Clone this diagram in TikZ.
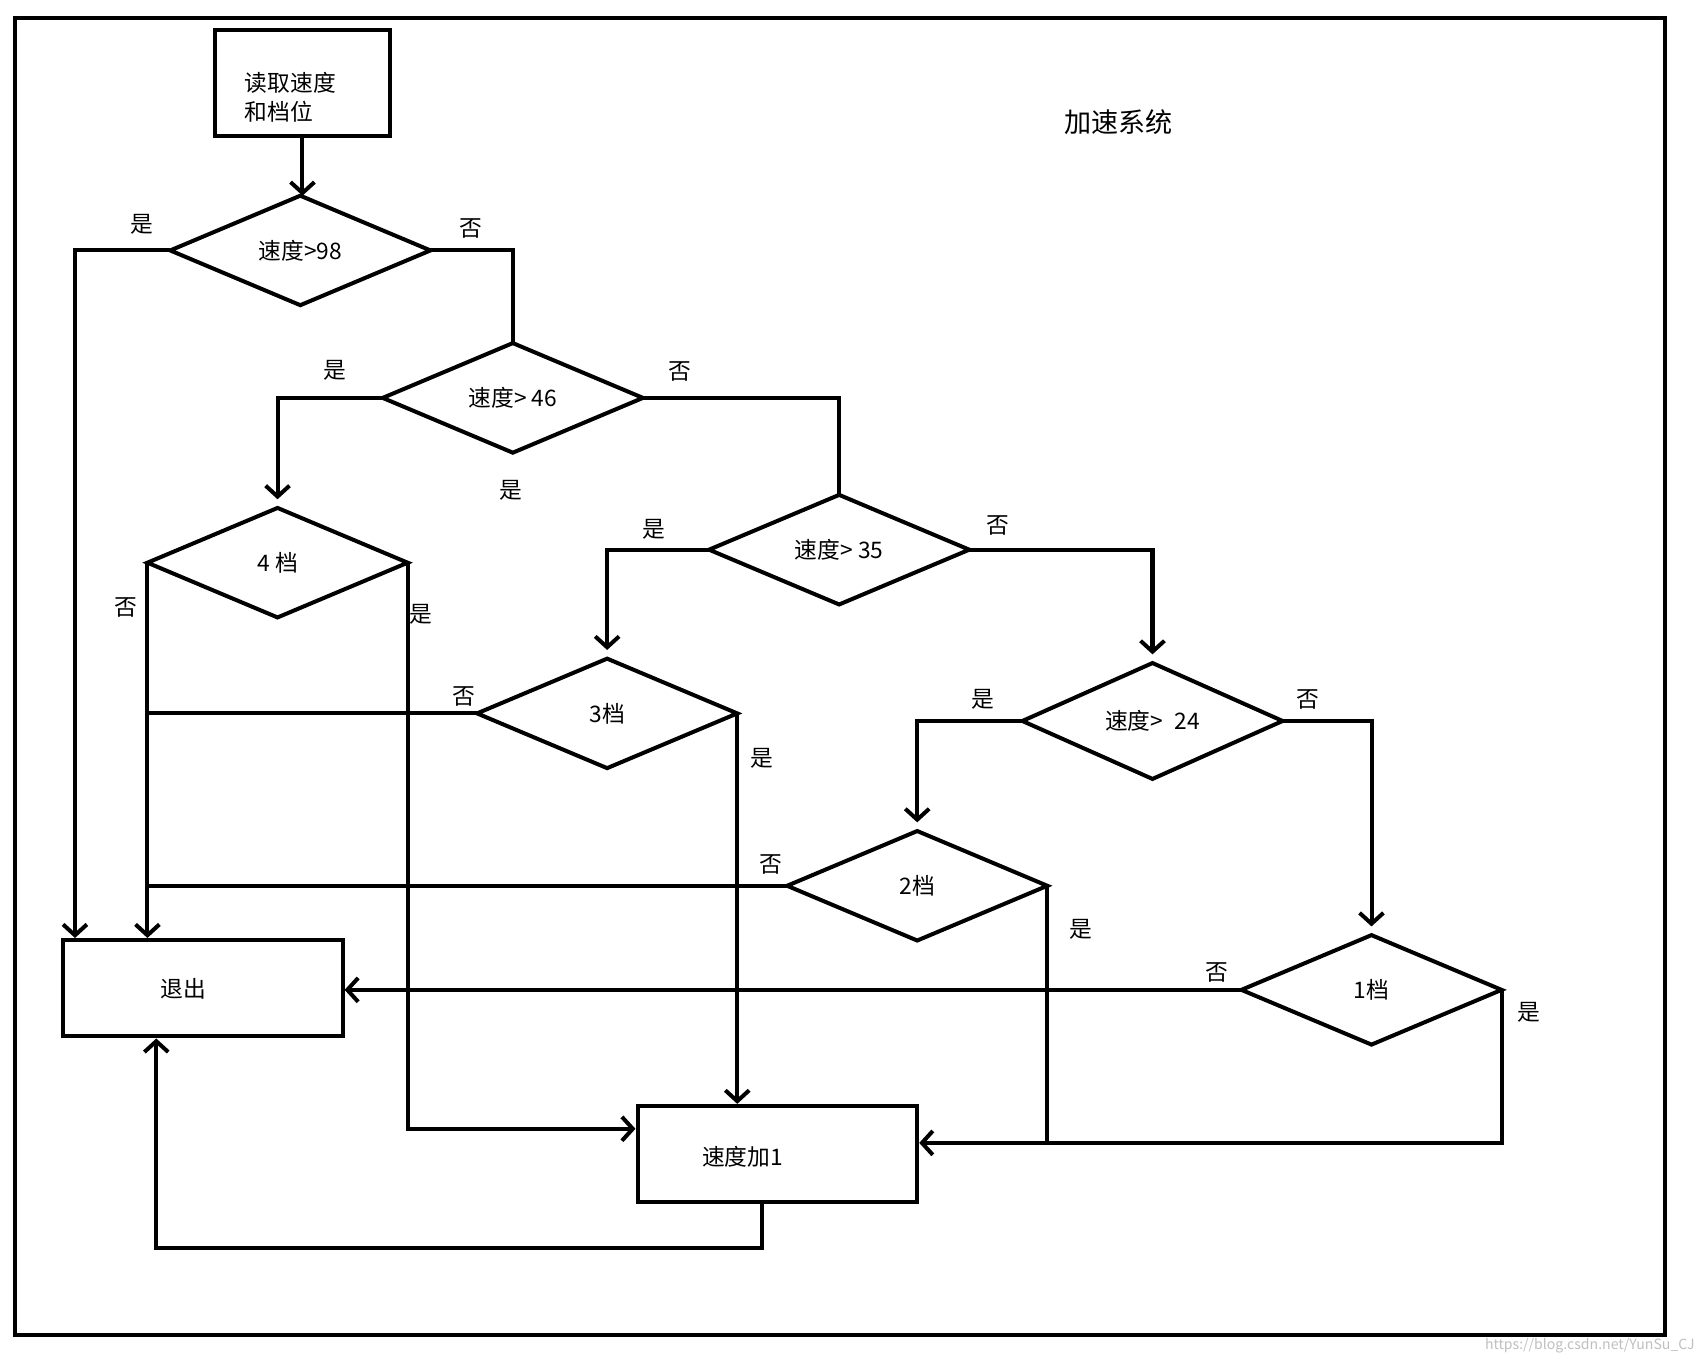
\documentclass[tikz,border=0pt]{standalone}
\usepackage{fontspec}
\setmainfont{Noto Sans CJK SC}
\usetikzlibrary{shapes.geometric,arrows.meta,calc}
\begin{document}
\begin{tikzpicture}[x=0.5pt,y=-0.5pt,line width=1.85pt,
  dia/.style={draw,diamond,minimum width=120pt,minimum height=50.5pt,inner sep=0pt,outer sep=0pt,font=\fontsize{10.5pt}{12pt}\selectfont},
  box/.style={draw,rectangle,inner sep=0pt,minimum width=129pt,minimum height=44.5pt},
  arr/.style={-{Straight Barb[length=5pt,width=11pt]}},
  lbl/.style={font=\fontsize{10.5pt}{13.5pt}\selectfont,inner sep=0pt},
  gap/.style={shorten >=4pt}]
\useasboundingbox (0,0) rectangle (1568,1256);
\draw (14,17) rectangle (1536,1231);
% nodes
\node[box,minimum width=81pt,minimum height=48.5pt] (start) at (279,76.5) {};
\node[lbl,anchor=west,align=left] (starttxt) at (224,90) {读取速度\\和档位};
\node[lbl,font=\fontsize{12.5pt}{14pt}\selectfont] (title) at (1032,113) {加速系统};
\node[dia] (d98) at (277,231) {速度>98};
\node[dia] (d46) at (473,367) {速度> 46};
\node[dia] (d4) at (256,519) {4 档};
\node[dia] (d35) at (774,507) {速度> 35};
\node[dia] (d3) at (560,658) {3档};
\node[dia] (d24) at (1063,665) {速度>\hspace{0.5em}24};
\node[dia] (d2) at (846,817) {2档};
\node[dia] (d1) at (1265,913) {1档};
\node[box] (exit) at (187,911.5) {};
\node[lbl] (exittxt) at (169,912) {退出};
\node[box] (add) at (717,1064.5) {};
\node[lbl] (addtxt) at (685,1067) {速度加1};
% helper coordinates
\coordinate (ex1) at ($(exit.north west)+(13,0)$);
\coordinate (addl) at ($(add.north west)+(0,23)$);
\coordinate (addr) at ($(add.north east)+(0,36)$);
\coordinate (addb) at ($(add.south west)+(117,0)$);
\coordinate (exb) at ($(exit.south west)+(88,0)$);
% connectors
\draw[arr] (start.south) -- (start.south |- d98.north);
\draw[arr] (d98.west) -| (ex1);
\draw (d98.east) -| (d46.north);
\draw[arr,gap] (d46.west) -| (d4.north);
\draw (d46.east) -| (d35.north);
\draw[arr] (d4.west) -- (d4.west |- exit.north);
\draw[arr] (d4.east) |- (addl);
\draw[arr,gap] (d35.west) -| (d3.north);
\draw[arr,gap] (d35.east) -| (d24.north);
\draw (d3.west) -- (d3.west -| d4.west);
\draw[arr] (d3.east) -- (d3.east |- add.north);
\draw[arr,gap] (d24.west) -| (d2.north);
\draw[arr,gap] (d24.east) -| (d1.north);
\draw (d2.west) -- (d2.west -| d4.west);
\draw (d2.east) -- (d2.east |- addr);
\draw[arr] (d1.west) -- (d1.west -| exit.east);
\draw[arr] (d1.east) |- (addr);
\draw[arr] (addb) -- ++(0,40) -| (exb);
% labels
\node[lbl] (l1) at (131,207) {是};
\node[lbl] (l2) at (434,211) {否};
\node[lbl] (l3) at (309,342) {是};
\node[lbl] (l4) at (627,343) {否};
\node[lbl] (l5) at (471,452) {是};
\node[lbl] (l6) at (116,560) {否};
\node[lbl] (l7) at (388,567) {是};
\node[lbl] (l8) at (603,488) {是};
\node[lbl] (l9) at (920,485) {否};
\node[lbl] (l10) at (428,642) {否};
\node[lbl] (l11) at (703,699) {是};
\node[lbl] (l12) at (907,645) {是};
\node[lbl] (l13) at (1206,645) {否};
\node[lbl] (l14) at (711,797) {否};
\node[lbl] (l15) at (997,857) {是};
\node[lbl] (l16) at (1122,897) {否};
\node[lbl] (l17) at (1410,934) {是};
\node[lbl,anchor=east,text=black!25,font=\fontsize{6.5pt}{8pt}\selectfont] (wm) at (1565,1241) {https://blog.csdn.net/YunSu\_CJ};
\end{tikzpicture}
\end{document}
